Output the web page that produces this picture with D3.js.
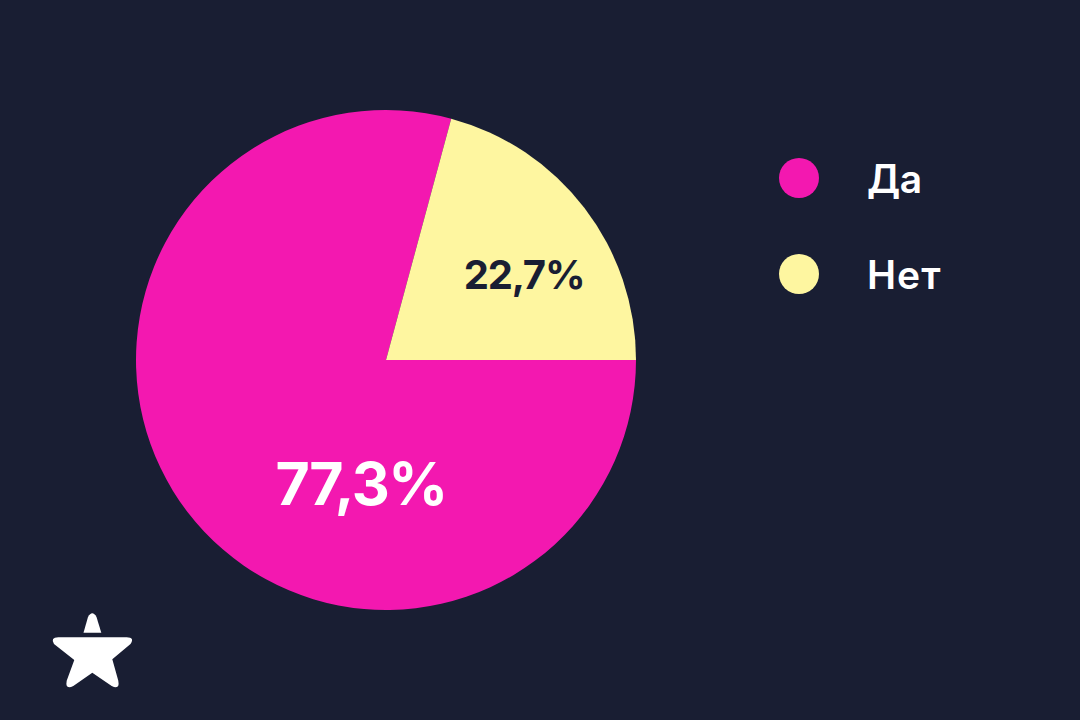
<!DOCTYPE html>
<html><head><meta charset="utf-8">
<script src="https://cdn.jsdelivr.net/npm/d3@7"></script>
<style>html,body{margin:0;padding:0;background:#191e33}svg{display:block}text{font-family:"Inter","Noto Sans",sans-serif}</style>
</head><body><script>
const categories=["Да","Нет"];
// Slice shares as drawn in the picture (the yellow wedge spans about 75 degrees); printed labels are separate.
const values=[79.2,20.8];
const valueLabels=["77,3%","22,7%"];
const colors=["#f318b0","#fef6a0"];
const labelColors=["#ffffff","#191e33"];
const svg=d3.select("body").append("svg").attr("width",1080).attr("height",720);
svg.append("rect").attr("width",1080).attr("height",720).attr("fill","#191e33");
const cx=386,cy=360,r=250;
const color=d3.scaleOrdinal(categories,colors);
const pie=d3.pie().sort(null).value(d=>d).startAngle(Math.PI/2).endAngle(Math.PI/2+2*Math.PI);
const arc=d3.arc().innerRadius(0).outerRadius(r);
const g=svg.append("g").attr("transform",`translate(${cx},${cy})`);
g.selectAll("path").data(pie(values)).join("path").attr("d",arc).attr("fill",(d,i)=>colors[i]);
const labelPos=[[-25,145],[138,-71]];
const sizes=[59,40];
const weights=[700,700];
const spacing=[-1.5,-1.2];
g.selectAll("text").data(pie(values)).join("text")
 .attr("x",(d,i)=>labelPos[i][0]).attr("y",(d,i)=>labelPos[i][1])
 .attr("text-anchor","middle").attr("font-weight",(d,i)=>weights[i]).attr("letter-spacing",(d,i)=>spacing[i])
 .attr("font-size",(d,i)=>sizes[i]).attr("fill",(d,i)=>labelColors[i]).text((d,i)=>valueLabels[i]);
const ly=d3.scalePoint().domain(categories).range([178,274]);
const legendSpacing=[-0.5,1];
const lg=svg.selectAll("g.l").data(categories).join("g").attr("class","l").attr("transform",d=>`translate(0,${ly(d)})`);
lg.append("circle").attr("cx",799).attr("r",20).attr("fill",d=>color(d));
lg.append("text").attr("x",867).attr("y",15).attr("font-size",39).attr("font-weight",600).attr("letter-spacing",(d,i)=>legendSpacing[i]).attr("fill","#fff").text(d=>d);
const logo=svg.append("g").attr("fill","#fff");
const p1=d3.path();
p1.moveTo(83.5,632.7);p1.lineTo(88,617);p1.quadraticCurveTo(92.3,609.5,96.5,617);p1.lineTo(101.3,632.7);p1.closePath();
const p2=d3.path();
p2.moveTo(58.3,637.3);p2.lineTo(126.7,637.3);p2.quadraticCurveTo(135,637.3,130.5,644);
p2.lineTo(112.3,659.3);p2.lineTo(118.3,680.7);p2.quadraticCurveTo(120,690,111.7,686);
p2.lineTo(92.3,672.7);p2.lineTo(73.3,686);p2.quadraticCurveTo(65,690,66.7,680.7);
p2.lineTo(74.3,660);p2.lineTo(54,644);p2.quadraticCurveTo(50,637.3,58.3,637.3);p2.closePath();
logo.append("path").attr("d",p1.toString());
logo.append("path").attr("d",p2.toString());
</script></body></html>
